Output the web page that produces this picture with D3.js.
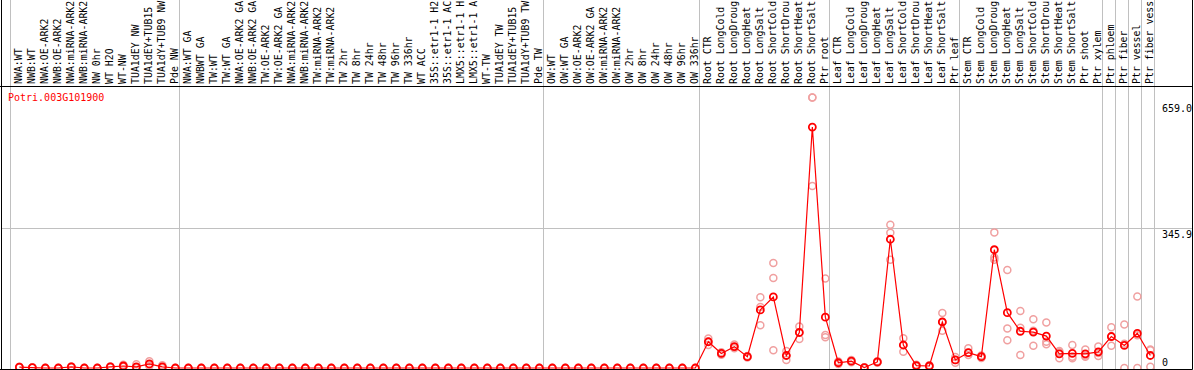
<!DOCTYPE html>
<html>
<head>
<meta charset="utf-8">
<script src="https://cdn.jsdelivr.net/npm/d3@7"></script>
<style>
body { margin: 0; background: #fff; }
svg { display: block; }
text { font-family: "DejaVu Sans Mono", monospace; font-size: 10px; }
</style>
</head>
<body>
<div id="vis_container"></div>
<script>
var gene = "Potri.003G101900";

var samples = [
    "NWA:WT", "NWB:WT", "NWA:OE-ARK2", "NWB:OE-ARK2", "NWA:miRNA-ARK2", "NWB:miRNA-ARK2", "NW 0hr", "WT H2O", "WT-NW",
    "TUA1dEY NW", "TUA1dEY+TUB15", "TUA1dY+TUB9 NW", "Pde NW",
    "NWA:WT GA", "NWBWT GA", "TW:WT", "TW:WT GA", "NWA:OE-ARK2 GA", "NWB:OE-ARK2 GA", "TW:OE-ARK2", "TW:OE-ARK2 GA",
    "NWA:miRNA-ARK2", "NWB:miRNA-ARK2", "TW:miRNA-ARK2", "TW:miRNA-ARK2", "TW 2hr", "TW 8hr", "TW 24hr", "TW 48hr",
    "TW 96hr", "TW 336hr", "WT ACC", "35S::etr1-1 H2O", "35S::etr1-1 ACC", "LMX5::etr1-1 H2O", "LMX5::etr1-1 ACC",
    "WT-TW", "TUA1dEY TW", "TUA1dEY+TUB15", "TUA1dY+TUB9 TW", "Pde TW",
    "OW:WT", "OW:WT GA", "OW:OE-ARK2", "OW:OE-ARK2 GA", "OW:miRNA-ARK2", "OW:miRNA-ARK2", "OW 2hr", "OW 8hr",
    "OW 24hr", "OW 48hr", "OW 96hr", "OW 336hr",
    "Root CTR", "Root LongCold", "Root LongDrought", "Root LongHeat", "Root LongSalt", "Root ShortCold",
    "Root ShortDrought", "Root ShortHeat", "Root ShortSalt", "Ptr root",
    "Leaf CTR", "Leaf LongCold", "Leaf LongDrought", "Leaf LongHeat", "Leaf LongSalt", "Leaf ShortCold",
    "Leaf ShortDrought", "Leaf ShortHeat", "Leaf ShortSalt", "Ptr leaf",
    "Stem CTR", "Stem LongCold", "Stem LongDrought", "Stem LongHeat", "Stem LongSalt", "Stem ShortCold",
    "Stem ShortDrought", "Stem ShortHeat", "Stem ShortSalt", "Ptr shoot", "Ptr xylem",
    "Ptr phloem", "Ptr fiber", "Ptr vessel", "Ptr fiber vessel"
];

// number of samples between two grey separators
var groups = [13, 28, 12, 10, 10, 11, 1, 1, 1, 1];

var means = [
    2, 1, 0, 0, 3, 0, 0, 3, 5, 3, 10, 3, 0,
    0, 0, 0, 0, 0, 0, 0, 0, 0, 0, 0, 0, 0, 0, 0, 0, 0, 0, 0, 0, 0, 0, 0, 0, 0, 0, 0, 0,
    0, 0, 0, 0, 0, 0, 0, 0, 0, 0, 0, 0,
    65, 36, 53, 28, 144, 176, 31, 88, 597, 126,
    13, 17, 1, 15, 319, 57, 6, 5, 114, 20,
    38, 28, 293, 137, 91, 89, 79, 35, 36, 35, 40,
    78, 56, 86, 31
];

var replicates = [
    [3, 2, 1], [1, 1, 1], [0, 0, 0], [0, 0, 0], [4, 3, 2], [0, 0, 0], [0, 0, 0], [4, 3, 2], [8, 4, 3], [9, 1, 0],
    [17, 8, 5], [7, 2, 0], [0, 0, 0],
    [0, 0, 0], [0, 0, 0], [0, 0, 0], [0, 0, 0], [0, 0, 0], [0, 0, 0], [0, 0, 0], [0, 0, 0], [0, 0, 0], [0, 0, 0],
    [0, 0, 0], [0, 0, 0], [0, 0, 0], [0, 0, 0], [0, 0, 0], [0, 0, 0], [0, 0, 0], [0, 0, 0], [0, 0, 0], [0, 0, 0],
    [0, 0, 0], [0, 0, 0], [0, 0, 0], [0, 0, 0], [0, 0, 0], [0, 0, 0], [0, 0, 0], [0, 0, 0],
    [0, 0, 0], [0, 0, 0], [0, 0, 0], [0, 0, 0], [0, 0, 0], [0, 0, 0], [0, 0, 0], [0, 0, 0], [0, 0, 0], [0, 0, 0],
    [0, 0, 0], [0, 0, 0],
    [73, 65, 57], [39, 36, 33], [58, 52, 49], [30, 28, 26], [175, 151, 106], [260, 223, 44], [42, 31, 20],
    [103, 88, 72], [670, 670, 451], [222, 82, 76],
    [16, 13, 10], [20, 17, 14], [2, 1, 0], [17, 15, 13], [355, 335, 268], [74, 57, 40], [8, 6, 4], [7, 5, 3],
    [136, 114, 92], [27, 20, 13],
    [49, 38, 32], [31, 28, 25], [336, 274, 268], [243, 98, 69], [141, 100, 32], [121, 92, 55], [113, 65, 59],
    [42, 39, 24], [57, 28, 24], [46, 31, 28], [53, 37, 30],
    [101, 78, 55], [108, 60, 0], [177, 81, 0], [46, 44, 3]
];

var yTicks = [0, 345.9, 659.0];

var width = 1194;
var height = 370;
var headerBottom = 86.5;
var plotBottom = 369.5;
var rightEdge = 1192.5;
var maxChars = 14; // the header only has room for this many characters

var x = d3.scaleLinear()
    .domain([0, samples.length])
    .range([10.5, 10.5 + 13 * samples.length]);
var y = d3.scaleLinear()
    .domain([0, 659])
    .range([368, 102]);

function px(i) { return x(i + 0.68); }

var svg = d3.select("#vis_container")
    .append("svg")
    .attr("width", width)
    .attr("height", height);

svg.append("defs").append("clipPath")
    .attr("id", "plotclip")
    .append("rect")
    .attr("x", 2).attr("y", headerBottom)
    .attr("width", rightEdge - 2).attr("height", plotBottom - headerBottom);

// grey separators between the experiment groups
var bounds = [0];
groups.forEach(function(g) { bounds.push(bounds[bounds.length - 1] + g); });

svg.selectAll(".sep").data(bounds).enter().append("line")
    .attr("class", "sep")
    .attr("x1", function(d) { return x(d); })
    .attr("x2", function(d) { return x(d); })
    .attr("y1", 0)
    .attr("y2", plotBottom)
    .style("stroke", "#c0c0c0")
    .style("stroke-width", 1);

svg.append("line")
    .attr("x1", 1).attr("x2", rightEdge)
    .attr("y1", Math.round(y(345.9)) + 0.5).attr("y2", Math.round(y(345.9)) + 0.5)
    .style("stroke", "#c0c0c0");

// sample names, rotated
svg.selectAll(".samp").data(samples).enter().append("text")
    .attr("class", "samp")
    .attr("transform", function(d, i) { return "translate(" + (px(i) + 2.5) + ",84) rotate(-90)"; })
    .style("fill", "#000")
    .style("font-size", "9.9px")
    .text(function(d) { return d.slice(0, maxChars); });

var plot = svg.append("g").attr("clip-path", "url(#plotclip)");

var repPoints = [];
replicates.forEach(function(r, i) {
    r.forEach(function(v) { repPoints.push({i: i, v: v}); });
});

plot.selectAll(".rep").data(repPoints).enter().append("circle")
    .attr("class", "rep")
    .attr("r", 3.5)
    .attr("cx", function(d) { return px(d.i); })
    .attr("cy", function(d) { return y(d.v); })
    .style("fill", "none")
    .style("stroke", "#f0a0a0")
    .style("stroke-width", 1.5);

var line = d3.line()
    .x(function(d, i) { return px(i); })
    .y(function(d) { return y(d); });

plot.append("path")
    .datum(means)
    .attr("d", line)
    .style("fill", "none")
    .style("stroke", "#ff0000")
    .style("stroke-width", 1.2);

plot.selectAll(".mean").data(means).enter().append("circle")
    .attr("class", "mean")
    .attr("r", 3.5)
    .attr("cx", function(d, i) { return px(i); })
    .attr("cy", function(d) { return y(d); })
    .style("fill", "none")
    .style("stroke", "#ff0000")
    .style("stroke-width", 1.8);

svg.append("text")
    .attr("x", 8)
    .attr("y", 101)
    .style("fill", "#ff0000")
    .text(gene);

svg.selectAll(".ytick").data(yTicks).enter().append("text")
    .attr("class", "ytick")
    .attr("x", 1162)
    .attr("y", function(d) { return d == 0 ? y(d) - 2 : y(d) + 10; })
    .style("fill", "#000")
    .text(function(d) { return d == 0 ? "0" : d.toFixed(1); });

// black frame
svg.append("line")
    .attr("x1", 0).attr("x2", rightEdge)
    .attr("y1", headerBottom).attr("y2", headerBottom)
    .style("stroke", "#000");
svg.append("line")
    .attr("x1", 1.5).attr("x2", 1.5)
    .attr("y1", 0).attr("y2", plotBottom)
    .style("stroke", "#000");
svg.append("line")
    .attr("x1", rightEdge).attr("x2", rightEdge)
    .attr("y1", 0).attr("y2", plotBottom)
    .style("stroke", "#000");
svg.append("line")
    .attr("x1", 0).attr("x2", rightEdge)
    .attr("y1", plotBottom).attr("y2", plotBottom)
    .style("stroke", "#000");
</script>
</body>
</html>
